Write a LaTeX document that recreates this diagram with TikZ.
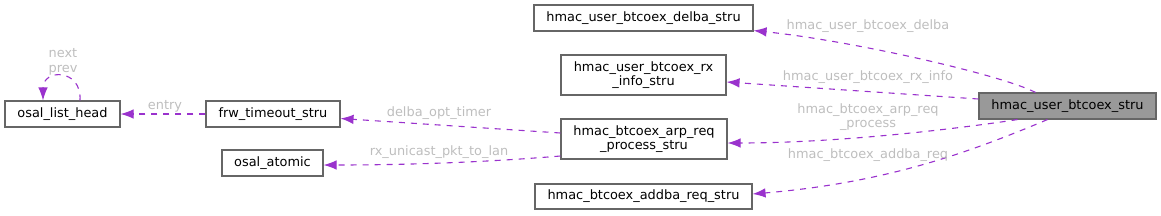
\documentclass[tikz,border=0pt]{standalone}
\usepackage{fontspec}
\setmainfont{DejaVu Sans}
\usetikzlibrary{arrows.meta}
\definecolor{boxgray}{HTML}{666666}
\definecolor{mainfill}{HTML}{999999}
\definecolor{memberpurple}{HTML}{9A32CD}
\definecolor{labelgray}{HTML}{BEBEBE}
\tikzset{
  >=Latex,
  struct/.style={
    rectangle, draw=boxgray, fill=white, line width=1.1pt, inner sep=0pt,
    minimum height=26pt, align=center,
    font=\fontsize{12.9}{14.5}\selectfont, text=black
  },
  mainstruct/.style={struct, fill=mainfill},
  member/.style={-{Latex[length=13pt,width=9.5pt]}, line width=1.1pt, draw=memberpurple,
    dash pattern=on 6pt off 6pt},
  memberlabel/.style={font=\fontsize{12.9}{14.5}\selectfont, text=labelgray, align=center}
}

\begin{document}
\begin{tikzpicture}[x=1pt,y=1pt]
\useasboundingbox (0,0) rectangle (1161,215);
% structs
\node[mainstruct, minimum width=177pt] (main) at (1067.5,109) {hmac\_user\_btcoex\_stru};
\node[struct, minimum width=219pt] (delba) at (643.5,197) {hmac\_user\_btcoex\_delba\_stru};
\node[struct, minimum width=165pt, minimum height=40pt] (rxinfo) at (643.5,140) {hmac\_user\_btcoex\_rx\\\_info\_stru};
\node[struct, minimum width=166pt, minimum height=40pt] (arpreq) at (644,76) {hmac\_btcoex\_arp\_req\\\_process\_stru};
\node[struct, minimum width=217pt, minimum height=25pt] (addba) at (643.5,18.5) {hmac\_btcoex\_addba\_req\_stru};
\node[struct, minimum width=134pt] (timer) at (273,101) {frw\_timeout\_stru};
\node[struct, minimum width=101pt] (atomic) at (272.5,52) {osal\_atomic};
\node[struct, minimum width=115pt] (list) at (62.5,101) {osal\_list\_head};
% members
\draw[member] ([xshift=-32pt]main.north) .. controls +(-35,18) and +(97,-10) .. ([yshift=1pt]delba.south east);
\draw[member] ([yshift=7pt]main.west) -- ([yshift=-7pt]rxinfo.east);
\draw[member] ([xshift=-50pt]main.south) .. controls +(-79,-12) and +(100,0) .. ([yshift=-4pt]arpreq.east);
\draw[member] ([xshift=-20pt]main.south) .. controls +(-83,-35) and +(130,11) .. ([yshift=2.5pt]addba.east);
\draw[member] ([yshift=6pt]arpreq.west) -- ([yshift=-4.5pt]timer.east);
\draw[member] ([yshift=-17pt]arpreq.west) .. controls +(-60,-5) and +(100,0) .. ([yshift=-2pt]atomic.east);
\draw[member] (timer.west) -- (list.east);
\draw[member] ([xshift=17.5pt]list.north) .. controls +(2,32) and +(0,32) .. ([xshift=-19.5pt]list.north);
% member names
\node[memberlabel] (ldelba) at (868,189) {hmac\_user\_btcoex\_delba};
\node[memberlabel] (lrxinfo) at (868,138) {hmac\_user\_btcoex\_rx\_info};
\node[memberlabel] (larpreq) at (868,98) {hmac\_btcoex\_arp\_req\\\_process};
\node[memberlabel] (laddba) at (868,60) {hmac\_btcoex\_addba\_req};
\node[memberlabel] (ltimer) at (439,102) {delba\_opt\_timer};
\node[memberlabel] (latomic) at (439,63) {rx\_unicast\_pkt\_to\_lan};
\node[memberlabel] (lentry) at (165,109) {entry};
\node[memberlabel] (lnext) at (63,153) {next\\prev};
\end{tikzpicture}
\end{document}
